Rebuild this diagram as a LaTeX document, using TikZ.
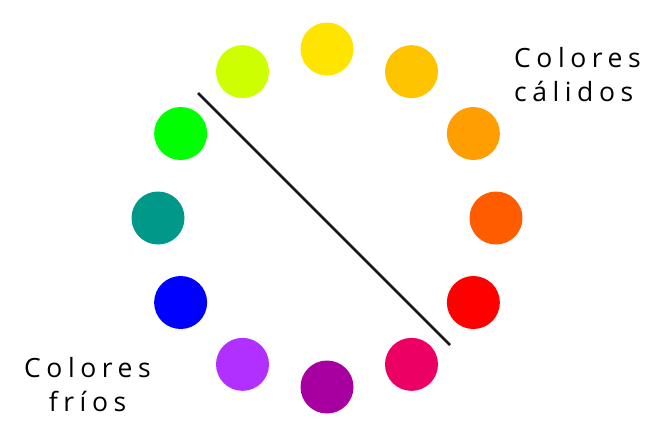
\documentclass[tikz,border=0pt]{standalone}
\usepackage{fontspec}
\setmainfont{Open Sans}[LetterSpace=21]
\usepackage{xcolor}
\usepackage{tikz}
\usetikzlibrary{positioning, calc}
\definecolor{hueYellow}{RGB}{255, 228, 0}
\definecolor{hueAmber}{RGB}{255, 196, 0}
\definecolor{hueOrange}{RGB}{255, 158, 0}
\definecolor{hueVermilion}{RGB}{255, 92, 0}
\definecolor{hueRed}{RGB}{255, 0, 0}
\definecolor{hueRose}{RGB}{236, 0, 100}
\definecolor{huePurple}{RGB}{168, 0, 160}
\definecolor{hueViolet}{RGB}{178, 48, 255}
\definecolor{hueBlue}{RGB}{0, 0, 255}
\definecolor{hueTeal}{RGB}{0, 152, 136}
\definecolor{hueGreen}{RGB}{0, 255, 0}
\definecolor{hueLime}{RGB}{206, 255, 0}

\begin{document}
\begin{tikzpicture}[x=1pt, y=-1pt,
    dot/.style={circle, minimum size=53pt, inner sep=0pt},
    label/.style={font=\fontsize{26.5}{34}\selectfont, text=black, inner sep=0pt}]
    \useasboundingbox (0,0) rectangle (660,429);

    % colour wheel, clockwise from the top
    \foreach \hue [count=\i] in {hueYellow, hueAmber, hueOrange, hueVermilion, hueRed, hueRose,
                                 huePurple, hueViolet, hueBlue, hueTeal, hueGreen, hueLime} {
        \node[dot, fill=\hue] (c\i) at ($(327,218) + ({-90+30*(\i-1)}:{169})$) {};
    }

    \coordinate (split-a) at (198,93);
    \coordinate (split-b) at (450,345);
    \draw[line width=2.6pt, black!90] (split-a) -- (split-b);

    \node[label, align=left, anchor=north west] (warm) at (514,47) {Colores\\cálidos};
    \node[label, align=center, anchor=north west] (cool) at (24,357) {Colores\\fríos};

\end{tikzpicture}
\end{document}
